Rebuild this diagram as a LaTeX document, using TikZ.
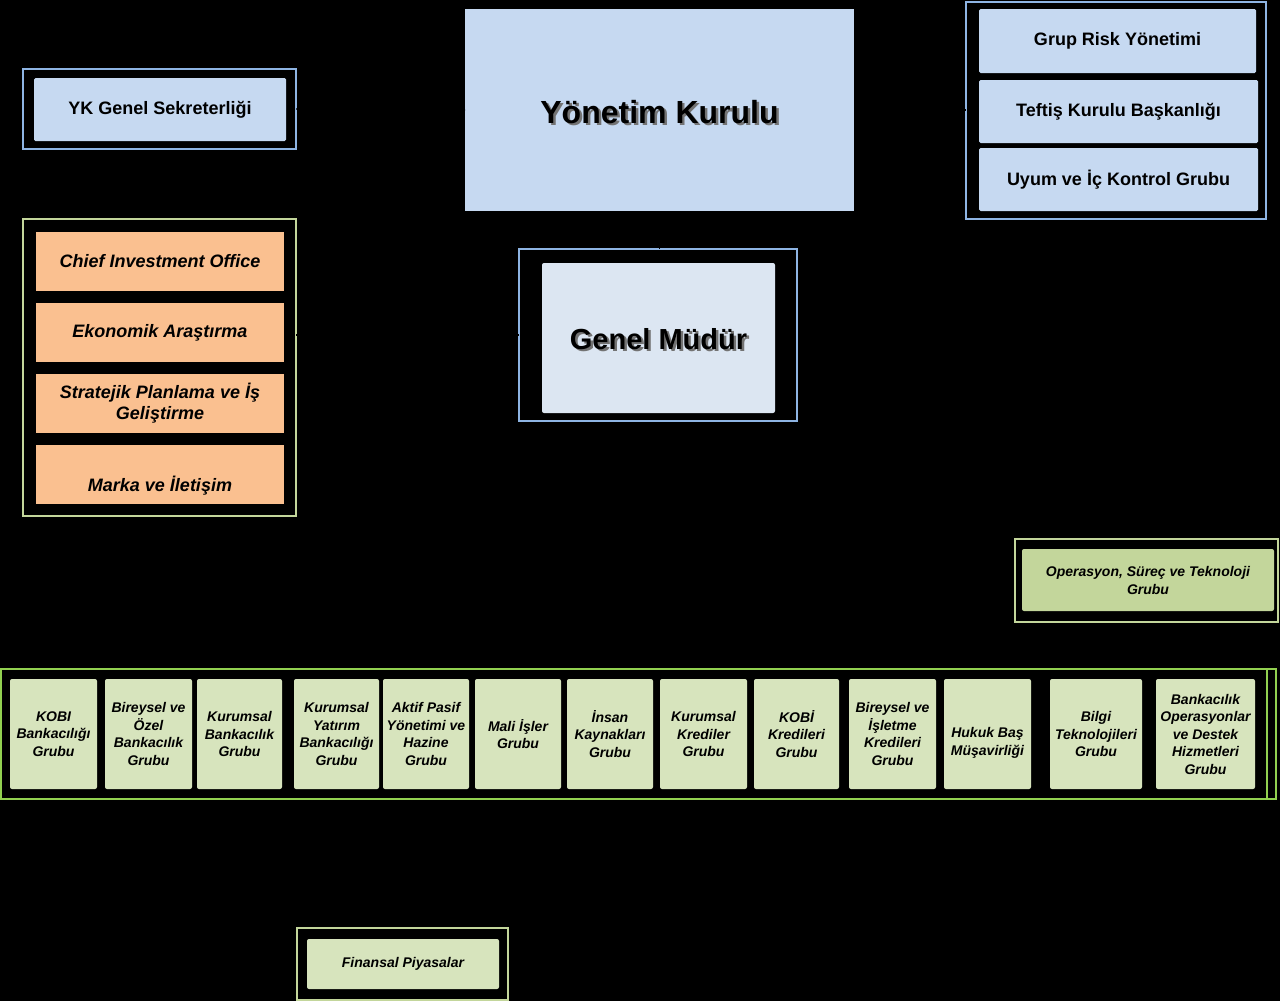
\documentclass[tikz,border=0pt]{standalone}
\usepackage{fontspec}
\setmainfont{Liberation Sans}
\usetikzlibrary{calc}
\definecolor{boxblue}{HTML}{C6D9F1}
\definecolor{gmblue}{HTML}{DCE6F2}
\definecolor{frameblue}{HTML}{8EB4E3}
\definecolor{orangefill}{HTML}{FAC090}
\definecolor{palegreen}{HTML}{C3D69B}
\definecolor{bandgreen}{HTML}{92D050}
\definecolor{lightgreen}{HTML}{D7E4BD}
\definecolor{opgreen}{HTML}{C3D69B}
\begin{document}
\begin{tikzpicture}[x=1pt,y=-1pt,
  base/.style={anchor=north west, inner sep=0pt, outer sep=0pt, align=center},
  bframe/.style={base, draw=frameblue, line width=1.5pt},
  gframe/.style={base, draw=palegreen, line width=1.8pt},
  bandframe/.style={base, draw=bandgreen, line width=2pt},
  bluebox/.style={base, fill=boxblue, rounded corners=1.5pt, font=\bfseries\fontsize{18}{21.6}\selectfont},
  orangebox/.style={base, fill=orangefill, font=\bfseries\itshape\fontsize{18}{21}\selectfont},
  greenbox/.style={base, fill=lightgreen, rounded corners=2pt, font=\bfseries\itshape\fontsize{14}{17.5}\selectfont},
  opbox/.style={base, fill=opgreen, rounded corners=2pt, font=\bfseries\itshape\fontsize{14}{18}\selectfont},
  link/.style={draw=black, line width=1.2pt},
  shadowtxt/.style={text=black!55, inner sep=0pt},
  bigtxt/.style={inner sep=0pt},
  intxt/.style={inner sep=0pt, align=center}
]
\useasboundingbox (0,0) rectangle (1280,1001);
\fill[black] (0,0) rectangle (1280,1001);

% ---- Yonetim Kurulu
\node[base, fill=boxblue, minimum width=389, minimum height=202] (yk) at (465,9) {};
\node[shadowtxt, font=\bfseries\fontsize{32}{36}\selectfont] (ykshadow) at ($(yk.center)+(2.5,4.5)$) {Yönetim Kurulu};
\node[bigtxt, font=\bfseries\fontsize{32}{36}\selectfont] (yktxt) at ($(yk.center)+(0,2)$) {Yönetim Kurulu};

% ---- Genel Mudur
\node[bframe, minimum width=278, minimum height=172] (gmf) at (519,249) {};
\node[base, fill=gmblue, rounded corners=2pt, minimum width=233, minimum height=150] (gm) at (542,263) {};
\node[shadowtxt, font=\bfseries\fontsize{29}{33}\selectfont] (gmshadow) at ($(gm.center)+(2.5,3.5)$) {Genel Müdür};
\node[bigtxt, font=\bfseries\fontsize{29}{33}\selectfont] (gmtxt) at ($(gm.center)+(0,1)$) {Genel Müdür};

% ---- YK Genel Sekreterligi
\node[bframe, minimum width=273, minimum height=80] (ykgsf) at (23,69) {};
\node[bluebox, minimum width=252, minimum height=63] (ykgs) at (34,78) {YK Genel Sekreterliği};

% ---- Right group
\node[bframe, minimum width=300, minimum height=217] (rgf) at (966,2) {};
\node[bluebox, minimum width=277, minimum height=64] (risk) at (979,9) {Grup Risk Yönetimi};
\node[bluebox, minimum width=279, minimum height=63] (teftis) at (979,80) {Teftiş Kurulu Başkanlığı};
\node[bluebox, minimum width=279, minimum height=63] (uyum) at (979,148) {Uyum ve İç Kontrol Grubu};

% ---- Left orange group
\node[gframe, minimum width=273, minimum height=297] (lgf) at (23,219) {};
\node[orangebox, minimum width=248, minimum height=59] (cio) at (36,232) {Chief Investment Office};
\node[orangebox, minimum width=248, minimum height=59] (eko) at (36,303) {Ekonomik Araştırma};
\node[orangebox, minimum width=248, minimum height=59] (strat) at (36,374) {Stratejik Planlama ve İş\\Geliştirme};
\node[orangebox, minimum width=248, minimum height=59] (marka) at (36,445) {};
\node[intxt, font=\bfseries\itshape\fontsize{18}{21}\selectfont] (markatxt) at ($(marka.center)+(0,11)$) {Marka ve İletişim};

% ---- Operasyon
\node[gframe, minimum width=263, minimum height=83] (opf) at (1015,539) {};
\node[opbox, minimum width=252, minimum height=62] (op) at (1022,549) {Operasyon, Süreç ve Teknoloji\\Grubu};

% ---- Bottom band
\node[bandframe, minimum width=1275, minimum height=130] (band) at (1,669) {};
\draw[bandgreen, line width=1.5pt] (1267,669) -- (1267,799);
\node[greenbox, minimum width=87, minimum height=110] (b1) at (10,679) {KOBI\\Bankacılığı\\Grubu};
\node[greenbox, minimum width=87, minimum height=110] (b2) at (105,679) {Bireysel ve\\Özel\\Bankacılık\\Grubu};
\node[greenbox, minimum width=85, minimum height=110] (b3) at (197,679) {Kurumsal\\Bankacılık\\Grubu};
\node[greenbox, minimum width=85, minimum height=110] (b4) at (294,679) {Kurumsal\\Yatırım\\Bankacılığı\\Grubu};
\node[greenbox, minimum width=86, minimum height=110] (b5) at (383,679) {Aktif Pasif\\Yönetimi ve\\Hazine\\Grubu};
\node[greenbox, minimum width=86, minimum height=110] (b6) at (475,679) {Mali İşler\\Grubu};
\node[greenbox, minimum width=86, minimum height=110] (b7) at (567,679) {İnsan\\Kaynakları\\Grubu};
\node[greenbox, minimum width=87, minimum height=110] (b8) at (660,679) {Kurumsal\\Krediler\\Grubu};
\node[greenbox, minimum width=85, minimum height=110] (b9) at (754,679) {KOBİ\\Kredileri\\Grubu};
\node[greenbox, minimum width=87, minimum height=110] (b10) at (849,679) {Bireysel ve\\İşletme\\Kredileri\\Grubu};
\node[greenbox, minimum width=87, minimum height=110] (b11) at (944,679) {};
\node[intxt, font=\bfseries\itshape\fontsize{14}{17.5}\selectfont] (b11txt) at ($(b11.center)+(0,9)$) {Hukuk Baş\\Müşavirliği};
\node[greenbox, minimum width=92, minimum height=110] (b12) at (1050,679) {Bilgi\\Teknolojileri\\Grubu};
\node[greenbox, minimum width=99, minimum height=110] (b13) at (1156,679) {Bankacılık\\Operasyonlar\\ve Destek\\Hizmetleri\\Grubu};

% ---- Finansal Piyasalar
\node[gframe, minimum width=211, minimum height=72] (finf) at (297,928) {};
\node[greenbox, minimum width=192, minimum height=50] (fin) at (307,939) {Finansal Piyasalar};

% ---- connectors (black, as in the reference)
\draw[link] (yk.west) -- (ykgsf.east);
\draw[link] (yk.east) -- (yk.east -| rgf.west);
\draw[link] (yk.south) -- (yk.south |- gmf.north);
\draw[link] (gmf.west) -- (gmf.west -| lgf.east);
\draw[link] ($(gmf.south)+(-8,0)$) -- ($(gmf.south)+(-8,0)$ |- band.north);
\draw[link] ($(b11.east)!0.5!(b12.west)$ |- opf.south) -- ($(b11.east)!0.5!(b12.west)$ |- band.south);
\draw[link] ($(b4.south)+(6,0)$) -- ($(b4.south)+(6,0)$ |- finf.north);
\end{tikzpicture}
\end{document}
